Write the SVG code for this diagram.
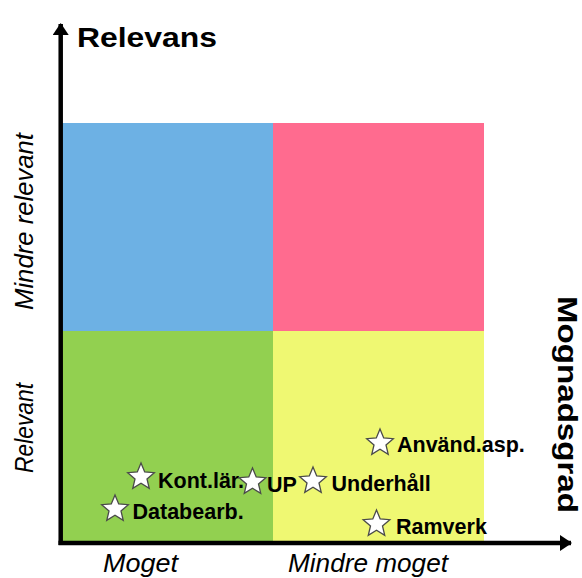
<svg xmlns="http://www.w3.org/2000/svg" width="582" height="578" viewBox="0 0 582 578">
  <style>
    .title { font-family: "Liberation Sans", Arial, sans-serif; font-weight: bold; fill: #000; }
    .axislbl { font-family: "Liberation Sans", Arial, sans-serif; font-style: italic; font-size: 25px; fill: #000; }
    .lbl { font-family: "Liberation Sans", Arial, sans-serif; font-weight: bold; font-size: 21.5px; fill: #000; }
    .star { fill: #ffffff; stroke: #4a4a4a; stroke-width: 1.3; stroke-linejoin: miter; }
    .axis { stroke: #000; stroke-width: 4.5; fill: none; }
  </style>
  <defs>
    <path id="star" class="star" d="M0,-14 L3.703,-5.097 L13.315,-4.326 L5.992,1.947 L8.229,11.326 L0,6.3 L-8.229,11.326 L-5.992,1.947 L-13.315,-4.326 L-3.703,-5.097 Z"/>
    <marker id="arrow" viewBox="0 0 12 16" refX="11" refY="8" markerWidth="12" markerHeight="16" markerUnits="userSpaceOnUse" orient="auto">
      <path d="M0,0 L12,8 L0,16 Z" fill="#000"/>
    </marker>
  </defs>

  <rect width="582" height="578" fill="#ffffff"/>

  <g id="q-top-left"><rect x="62" y="123" width="211" height="208" fill="#6DB1E4"/></g>
  <g id="q-top-right"><rect x="273" y="123" width="211" height="208" fill="#FF6B8F"/></g>
  <g id="q-bottom-left"><rect x="62" y="331" width="211" height="210" fill="#92D050"/></g>
  <g id="q-bottom-right"><rect x="273" y="331" width="211" height="210" fill="#EFF872"/></g>

  <g id="connectors">
    <line class="axis" x1="60.7" y1="545" x2="60.7" y2="24" marker-end="url(#arrow)"/>
    <line class="axis" x1="58.5" y1="543" x2="571" y2="543" marker-end="url(#arrow)"/>
  </g>

  <g id="title-relevans"><text class="title" x="77" y="46.5" font-size="28" textLength="140" lengthAdjust="spacingAndGlyphs">Relevans</text></g>
  <g id="title-mognadsgrad"><text class="title" font-size="27" text-anchor="middle" transform="translate(558,404.5) rotate(90)" x="0" y="0" textLength="217" lengthAdjust="spacingAndGlyphs">Mognadsgrad</text></g>

  <g id="lbl-mindre-relevant"><text class="axislbl" text-anchor="middle" transform="translate(33,221.5) rotate(-90)" x="0" y="0" textLength="177" lengthAdjust="spacingAndGlyphs">Mindre relevant</text></g>
  <g id="lbl-relevant"><text class="axislbl" text-anchor="middle" transform="translate(33,428) rotate(-90)" x="0" y="0" textLength="90" lengthAdjust="spacingAndGlyphs">Relevant</text></g>
  <g id="lbl-moget"><text class="axislbl" x="103" y="572" font-size="26" textLength="75" lengthAdjust="spacingAndGlyphs">Moget</text></g>
  <g id="lbl-mindre-moget"><text class="axislbl" x="288" y="572" font-size="26" textLength="160" lengthAdjust="spacingAndGlyphs">Mindre moget</text></g>

  <g id="node-kontlar">
    <use href="#star" x="141" y="477"/>
    <text class="lbl" x="158" y="488">Kont.lär.</text>
  </g>
  <g id="node-up">
    <use href="#star" x="252.5" y="482"/>
    <text class="lbl" x="267" y="491.5">UP</text>
  </g>
  <g id="node-underhall">
    <use href="#star" x="313" y="481"/>
    <text class="lbl" x="331.5" y="490.5">Underhåll</text>
  </g>
  <g id="node-anvand">
    <use href="#star" x="380" y="443"/>
    <text class="lbl" x="397" y="451.5">Använd.asp.</text>
  </g>
  <g id="node-ramverk">
    <use href="#star" x="376.5" y="524"/>
    <text class="lbl" x="396" y="533.5">Ramverk</text>
  </g>
  <g id="node-databearb">
    <use href="#star" x="115" y="509"/>
    <text class="lbl" x="132.5" y="519">Databearb.</text>
  </g>
</svg>
